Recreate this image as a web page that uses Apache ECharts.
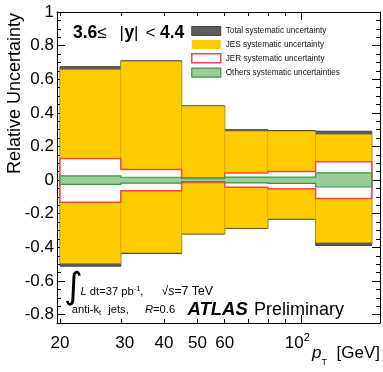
<!DOCTYPE html>
<html><head><meta charset="utf-8">
<script src="https://cdn.jsdelivr.net/npm/echarts@6/dist/echarts.min.js"></script>
<style>html,body{margin:0;padding:0;background:#fff}#c{width:383px;height:372px}</style>
</head><body><div id="c"></div>
<script>
// ---- data (bin edges in GeV, relative uncertainties) ----
const binLow  = [20, 30, 45, 60, 80, 110];
const binHigh = [30, 45, 60, 80, 110, 160];
const totalUp   = [0.675, 0.710, 0.442, 0.300, 0.295, 0.291];
const totalDown = [-0.512, -0.437, -0.321, -0.288, -0.233, -0.389];
const jesUp     = [0.657, 0.706, 0.439, 0.291, 0.291, 0.272];
const jesDown   = [-0.495, -0.432, -0.318, -0.285, -0.230, -0.371];
const jerUp     = [0.128, 0.063, 0.014, 0.042, 0.051, 0.109];
const jerDown   = [-0.131, -0.064, -0.014, -0.043, -0.051, -0.110];
const otherUp   = [0.025, 0.017, 0.008, 0.018, 0.018, 0.043];
const otherDown = [-0.025, -0.018, -0.009, -0.017, -0.019, -0.041];
const seriesNames = ['Total systematic uncertainty', 'JES systematic uncertainty', 'JER systematic uncertainty', 'Others systematic uncertainties'];
const xLabelValues = [20, 30, 40, 50, 60, 100];
const xMinorTicks = [20, 30, 40, 50, 60, 70, 80, 90];
const xMajorTicks = [100];
const yLabelValues = [-0.8, -0.6, -0.4, -0.2, 0, 0.2, 0.4, 0.6, 0.8, 1];

const yMinorTicks = [];
for (let k = -17; k <= 20; k++) yMinorTicks.push(Math.round(k * 5) / 100);

const FONT = '"Liberation Sans", Arial, Helvetica, sans-serif';
const X_MIN = 19.6, X_MAX = 169, Y_MIN = -0.85, Y_MAX = 1;

function rows(up, down) { return binLow.map((lo, i) => [lo, binHigh[i], up[i], down[i]]); }

function boxSeries(name, up, down, fill, stroke, lw) {
  return {
    type: 'custom', name, xAxisIndex: 0, yAxisIndex: 0, data: rows(up, down),
    encode: { x: [0, 1], y: [2, 3] },
    itemStyle: { color: fill, borderColor: stroke, borderWidth: lw },
    renderItem(params, api) {
      const p1 = api.coord([api.value(0), api.value(2)]);
      const p2 = api.coord([api.value(1), api.value(3)]);
      return { type: 'rect', shape: { x: p1[0], y: p1[1], width: p2[0] - p1[0], height: p2[1] - p1[1] },
        style: { fill, stroke, lineWidth: lw } };
    }
  };
}
function bandSeries(name, up, down, fill, stroke, lw) {
  return {
    type: 'custom', name, xAxisIndex: 0, yAxisIndex: 0, data: rows(up, down),
    encode: { x: [0, 1], y: [2, 3] },
    itemStyle: { color: fill, borderColor: stroke, borderWidth: lw },
    renderItem(params, api) {
      if (params.dataIndex !== 0) return null;
      const pts = [];
      for (let i = 0; i < binLow.length; i++) {
        pts.push(api.coord([binLow[i], up[i]]));
        pts.push(api.coord([binHigh[i], up[i]]));
      }
      for (let i = binLow.length - 1; i >= 0; i--) {
        pts.push(api.coord([binHigh[i], down[i]]));
        pts.push(api.coord([binLow[i], down[i]]));
      }
      return { type: 'polygon', shape: { points: pts }, style: { fill, stroke, lineWidth: lw, lineJoin: 'miter' } };
    }
  };
}

function xAx(pos, ticks, len, showLine, labels) {
  return {
    type: 'log', logBase: 10, min: X_MIN, max: X_MAX, position: pos, gridIndex: 0,
    axisLine: { show: showLine, onZero: false, lineStyle: { color: '#000', width: 1 } },
    axisTick: { show: true, inside: true, length: len, customValues: ticks, lineStyle: { color: '#000', width: 1 } },
    axisLabel: labels ? labels : { show: false },
    splitLine: { show: false }, minorTick: { show: false }
  };
}
function yAx(pos, ticks, len, showLine, labels) {
  return {
    type: 'value', min: Y_MIN, max: Y_MAX, position: pos, gridIndex: 0,
    axisLine: { show: showLine, onZero: false, lineStyle: { color: '#000', width: 1 } },
    axisTick: { show: true, inside: true, length: len, customValues: ticks, lineStyle: { color: '#000', width: 1 } },
    axisLabel: labels ? labels : { show: false },
    splitLine: { show: false }
  };
}

const xLabels = {
  show: true, customValues: xLabelValues, margin: 9, color: '#000', fontFamily: FONT, fontSize: 17,
  formatter(v) {
    if (Math.abs(v - 100) < 1e-6) return '{b|10}{s|2}';
    if (Math.abs(v - 30) < 1e-6) return '{o|30}';
    return '{b|' + Math.round(v) + '}';
  },
  rich: {
    b: { fontSize: 17, lineHeight: 22, fontFamily: FONT, color: '#000' },
    o: { fontSize: 17, lineHeight: 22, fontFamily: FONT, color: '#000', padding: [0, 0, 0, 8] },
    s: { fontSize: 11, verticalAlign: 'top', fontFamily: FONT, color: '#000', padding: [0, 8, 0, 0] }
  }
};
const yLabels = {
  show: true, customValues: yLabelValues, margin: 3, color: '#000', fontFamily: FONT, fontSize: 17,
  formatter(v) { return String(Math.round(v * 10) / 10); }
};

function txt(x, y, text, o) {
  o = o || {};
  const a = o.a || 'left', va = o.va || 'middle';
  return {
    type: 'text', x, y, rotation: o.rot || 0, silent: true, z: 100,
    style: {
      text, fill: o.color || '#000', fontFamily: o.family || FONT, fontSize: o.size || 17,
      fontWeight: o.weight || 'normal', fontStyle: o.style || 'normal',
      align: a, textAlign: a, verticalAlign: va, textVerticalAlign: va, rich: o.rich
    }
  };
}

const ANN = 11.2;
const chart = echarts.init(document.getElementById('c'), null, { renderer: 'canvas' });
chart.setOption({
  animation: false,
  backgroundColor: '#fff',
  grid: { left: 57, right: 3, top: 12, bottom: 49, containLabel: false },
  xAxis: [
    xAx('bottom', xMinorTicks, 4, true, xLabels),
    xAx('bottom', xMajorTicks, 8, false, null),
    xAx('top', xMinorTicks, 4, true, null),
    xAx('top', xMajorTicks, 8, false, null)
  ],
  yAxis: [
    yAx('left', yLabelValues, 8, true, yLabels),
    yAx('left', yMinorTicks, 4, false, null),
    yAx('right', yLabelValues, 8, true, null),
    yAx('right', yMinorTicks, 4, false, null)
  ],
  legend: {
    orient: 'vertical', left: 191, top: 26, padding: 0, itemWidth: 29, itemHeight: 9, itemGap: 4,
    selectedMode: false, icon: 'rect',
    textStyle: { fontSize: 8.2, color: '#111', fontFamily: FONT },
    data: [
      { name: seriesNames[0], icon: 'rect', itemStyle: { color: '#5c5c5c', borderColor: '#444', borderWidth: 1 } },
      { name: seriesNames[1], icon: 'rect', itemStyle: { color: '#ffcc00', borderColor: '#ffcc00', borderWidth: 0 } },
      { name: seriesNames[2], icon: 'rect', itemStyle: { color: '#ffffff', borderColor: '#ff4444', borderWidth: 1.5 } },
      { name: seriesNames[3], icon: 'rect', itemStyle: { color: '#9acb9a', borderColor: '#3a9a3a', borderWidth: 1.2 } }
    ]
  },
  series: [
    boxSeries(seriesNames[0], totalUp, totalDown, '#5c5c5c', '#444444', 1),
    boxSeries(seriesNames[1], jesUp, jesDown, '#ffcc00', 'rgba(215,170,0,0.55)', 0.8),
    bandSeries(seriesNames[2], jerUp, jerDown, '#ffffff', '#ff4444', 1.5),
    bandSeries(seriesNames[3], otherUp, otherDown, '#9acb9a', '#3a9a3a', 1.2)
  ],
  graphic: [
    // y-axis title
    txt(15, 13, 'Relative Uncertainty', { a: 'right', rot: Math.PI / 2, size: 18 }),
    // x-axis title
    txt(312, 353, 'p', { style: 'italic', size: 17 }),
    txt(321.5, 362.5, 'T', { size: 9 }),
    txt(380, 353, '[GeV]', { a: 'right', size: 17 }),
    // rapidity label
    txt(73, 33, '3.6', { weight: 'bold', size: 17.5 }),
    txt(97.3, 33, '≤', { size: 17 }),
    txt(119.5, 33, '|', { size: 17 }),
    txt(124.5, 33, 'y', { weight: 'bold', size: 17.5 }),
    txt(134, 33, '|', { size: 17 }),
    txt(145.5, 33, '<', { size: 17 }),
    txt(160, 33, '4.4', { weight: 'bold', size: 17.5 }),
    // annotations
    txt(64, 288.5, '∫', { size: 36, family: '"DejaVu Sans", ' + FONT }),
    txt(80.5, 291.5, '{i|L}{n| dt=37 pb}{sup|-1}{n|,}', { size: ANN, rich: {
      i: { fontStyle: 'italic', fontSize: ANN, lineHeight: 14, fontFamily: FONT },
      n: { fontSize: ANN, lineHeight: 14, fontFamily: FONT },
      sup: { fontSize: 7.5, verticalAlign: 'top', fontFamily: FONT } } }),
    txt(161.5, 291.5, '{n|√}{i|s}{n|=7 TeV}', { size: 12.3, rich: {
      i: { fontStyle: 'italic', fontSize: 12.3, lineHeight: 14, fontFamily: FONT },
      n: { fontSize: 12.3, lineHeight: 14, fontFamily: FONT } } }),
    txt(71.7, 310, '{n|anti-k}{sub|t}', { size: ANN, rich: {
      n: { fontSize: ANN, lineHeight: 14, fontFamily: FONT },
      sub: { fontSize: 7.5, verticalAlign: 'bottom', fontFamily: FONT } } }),
    txt(108.3, 310, 'jets,', { size: ANN }),
    txt(145, 310, '{i|R}{n|=0.6}', { size: ANN, rich: {
      i: { fontStyle: 'italic', fontSize: ANN, lineHeight: 14, fontFamily: FONT },
      n: { fontSize: ANN, lineHeight: 14, fontFamily: FONT } } }),
    txt(187.5, 310, 'ATLAS', { weight: 'bold', style: 'italic', size: 18.5 }),
    txt(254, 310, 'Preliminary', { size: 18 })
  ]
});
</script>
</body></html>
